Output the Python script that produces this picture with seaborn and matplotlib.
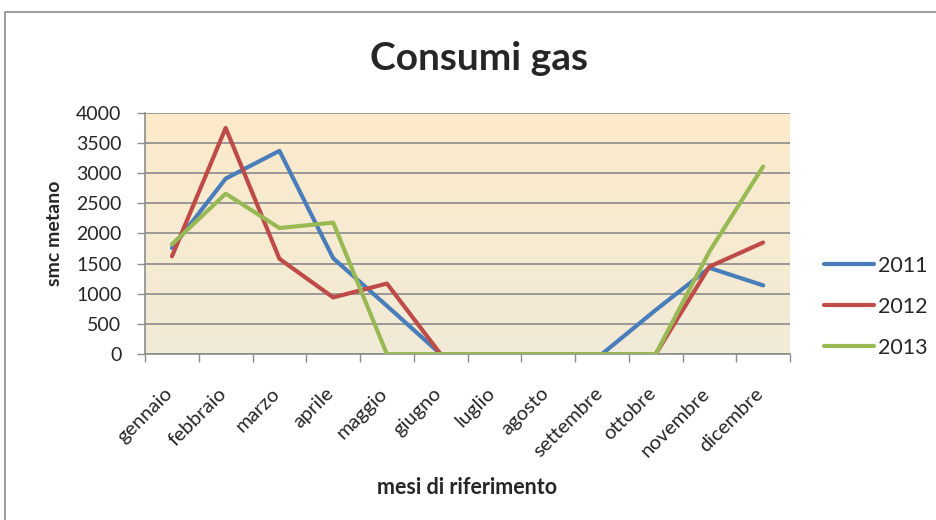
import numpy as np
import pandas as pd
import seaborn as sns
import matplotlib.pyplot as plt
import matplotlib.transforms as mtransforms
from matplotlib.lines import Line2D
from matplotlib.patches import Rectangle

# monthly gas consumption (smc metano)
mesi = ["gennaio", "febbraio", "marzo", "aprile", "maggio", "giugno",
        "luglio", "agosto", "settembre", "ottobre", "novembre", "dicembre"]
anni = ["2011", "2012", "2013"]
consumi_2011 = [1760, 2910, 3370, 1590, 800, 0, 0, 0, 0, 730, 1430, 1140]
consumi_2012 = [1620, 3750, 1580, 940, 1170, 0, 0, 0, 0, 0, 1450, 1850]
consumi_2013 = [1820, 2660, 2090, 2180, 0, 0, 0, 0, 0, 0, 1700, 3110]
colori = ["#4A7EBB", "#BE4B48", "#98B954"]

df = pd.DataFrame({
    "pos": list(range(len(mesi))) * 3,
    "smc": consumi_2011 + consumi_2012 + consumi_2013,
    "anno": [a for a in anni for _ in mesi],
})

sns.set_style("white")
plt.rcParams['font.family'] = ['Lato', 'DejaVu Sans']

fig = plt.figure(figsize=(9.36, 5.2), dpi=100)
ax = fig.add_axes([0.155, 0.319, 0.689, 0.464])

# chart area border
fig.patches.append(Rectangle((5 / 936, -0.1), 1.2, (520 - 12) / 520 + 0.1,
                             transform=fig.transFigure, fill=False,
                             edgecolor="#8c8c8c", linewidth=1.2))

# gradient background of plot area
grad = np.linspace(0, 1, 256).reshape(-1, 1, 1)
top = np.array([0xFD, 0xEB, 0xCB]) / 255
bottom = np.array([0xF1, 0xEA, 0xD7]) / 255
img = top * (1 - grad) + bottom * grad
ax.imshow(img, extent=[-0.5, 11.5, 0, 4000], aspect="auto", zorder=0)

sns.lineplot(data=df, x="pos", y="smc", hue="anno", palette=colori,
             linewidth=3, legend=False, ax=ax, zorder=3)

ax.set_xlim(-0.5, 11.5)
ax.set_ylim(0, 4000)
ax.set_yticks(range(0, 4001, 500))
ax.yaxis.grid(True, color="#8c8c8c", linewidth=1.2, zorder=1)
ax.set_axisbelow(True)
ax.tick_params(axis="y", direction="out", length=6, width=1, color="#8c8c8c",
               labelsize=14, left=True, pad=11)

ax.set_xticks(range(len(mesi)))
ax.set_xticklabels(mesi, rotation=45, ha="right", rotation_mode="anchor", fontsize=14.5)
ax.set_xticks(np.arange(-0.5, 12, 1), minor=True)
ax.tick_params(axis="x", which="major", length=0, pad=22)
ax.tick_params(axis="x", which="minor", direction="out", length=6, width=1,
               color="#8c8c8c", bottom=True)
# shift the rotated labels a little to the left, as in the original
shift = mtransforms.ScaledTranslation(-6 / 72, 0, fig.dpi_scale_trans)
for lab in ax.get_xticklabels():
    lab.set_transform(lab.get_transform() + shift)

for s in ["top", "right"]:
    ax.spines[s].set_visible(False)
for s in ["left", "bottom"]:
    ax.spines[s].set_color("#8c8c8c")
    ax.spines[s].set_linewidth(1.2)

ax.set_xlabel("mesi di riferimento", fontsize=15.5, fontweight="bold", labelpad=12)
ax.set_ylabel("smc metano", fontsize=14, fontweight="bold", labelpad=9)
fig.text(0.512, 0.888, "Consumi gas", ha="center", va="center",
         fontsize=28, fontweight="bold")

handles = [Line2D([0], [0], color=c, linewidth=3) for c in colori]
fig.legend(handles, anni, loc="center left", bbox_to_anchor=(0.86, 0.41),
           frameon=False, fontsize=15.5, handlelength=2.3, handletextpad=0.2,
           labelspacing=0.97)

fig.savefig("out.png", dpi=100)
